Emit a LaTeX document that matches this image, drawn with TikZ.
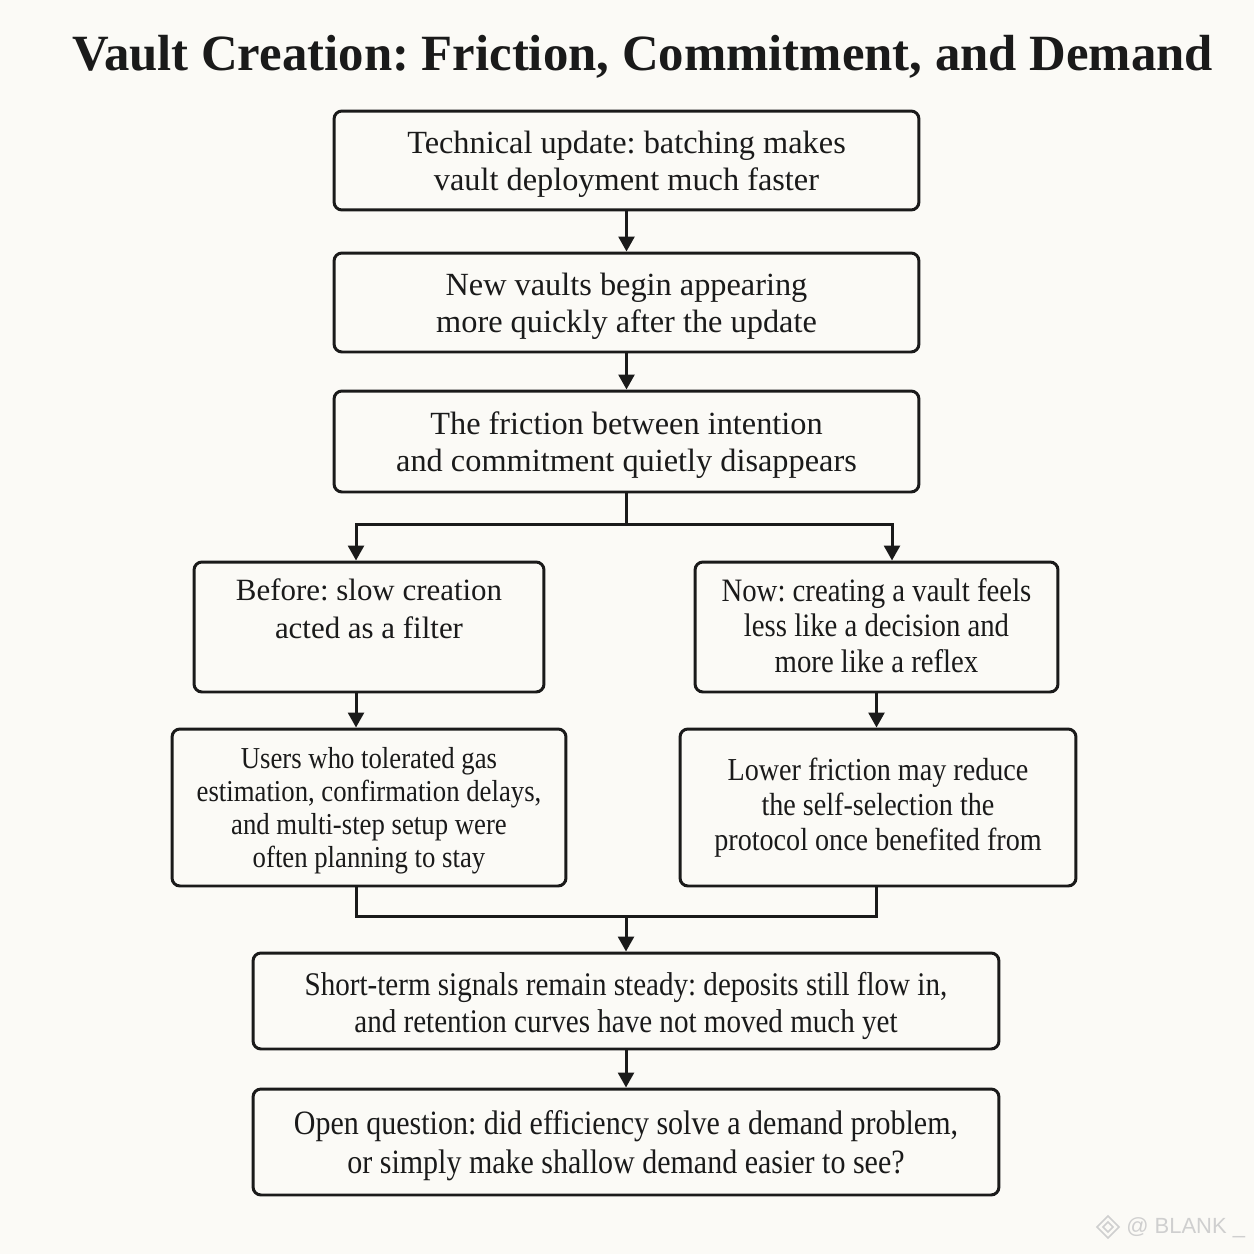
\documentclass[tikz,border=0pt]{standalone}
\usepackage{fontspec}
\setmainfont{Liberation Serif}
\newfontfamily\condfont[FakeStretch=0.88]{Liberation Serif}
\newfontfamily\wmfont{Liberation Sans}
\usetikzlibrary{arrows.meta,calc}
\definecolor{bg}{HTML}{FBFAF6}
\definecolor{ink}{HTML}{1A1A1A}
\definecolor{wm}{HTML}{CFCFCF}
\tikzset{
  box/.style={draw=ink, line width=1.7pt, rounded corners=4.5pt, inner sep=0pt, align=center, text=ink},
  arr/.style={draw=ink, line width=1.7pt, -{Triangle[length=8.5pt,width=9pt]}},
  ln/.style={draw=ink, line width=1.7pt},
}
\newcommand\ctext[2][2.3pt]{\raisebox{-#1}[\height][\depth]{\begin{tabular}{@{}c@{}}#2\end{tabular}}}
\frenchspacing
\begin{document}
\begin{tikzpicture}[x=0.02cm,y=-0.02cm]
\useasboundingbox[fill=bg] (0,0) rectangle (1254,1254);
\node[font=\bfseries\fontsize{28.9}{32}\selectfont, text=ink, anchor=base, inner sep=0pt] (title) at (642.5,70) {Vault Creation: Friction, Commitment, and Demand};

\node[box, minimum width=11.70cm, minimum height=1.98cm, font=\fontsize{18.4}{21.5}\selectfont] (A) at (626.5,160.5) {\ctext{Technical update: batching makes\\vault deployment much faster}};
\node[box, minimum width=11.70cm, minimum height=1.98cm, font=\fontsize{18.4}{21.5}\selectfont] (B) at (626.5,302.5) {\ctext{New vaults begin appearing\\more quickly after the update}};
\node[box, minimum width=11.70cm, minimum height=2.02cm, font=\fontsize{18.4}{21.5}\selectfont] (C) at (626.5,441.5) {\ctext{The friction between intention\\and commitment quietly disappears}};

\node[box, minimum width=7.00cm, minimum height=2.60cm, font=\fontsize{17.6}{21.3}\selectfont] (D) at (369,627) {\ctext[2pt]{Before: slow creation\\acted as a filter\\\mbox{}}};
\node[box, minimum width=7.26cm, minimum height=2.60cm, font=\condfont\fontsize{18.6}{20.2}\selectfont] (E) at (876.5,627) {\ctext[1.4pt]{Now: creating a vault feels\\less like a decision and\\more like a reflex}};

\node[box, minimum width=7.88cm, minimum height=3.14cm, font=\condfont\fontsize{17.3}{18.8}\selectfont] (F) at (369,807.5) {\ctext{Users who tolerated gas\\estimation, confirmation delays,\\and multi-step setup were\\often planning to stay}};
\node[box, minimum width=7.92cm, minimum height=3.14cm, font=\condfont\fontsize{18.2}{19.8}\selectfont] (G) at (878,807.5) {\ctext[0.6pt]{Lower friction may reduce\\the self-selection the\\protocol once benefited from}};

\node[box, minimum width=14.92cm, minimum height=1.92cm, font=\condfont\fontsize{18.8}{21}\selectfont] (H) at (626,1001) {\ctext[3.2pt]{Short-term signals remain steady: deposits still flow in,\\and retention curves have not moved much yet}};
\node[box, minimum width=14.92cm, minimum height=2.12cm, font=\condfont\fontsize{19.4}{22.7}\selectfont] (I) at (626,1142) {\ctext{Open question: did efficiency solve a demand problem,\\or simply make shallow demand easier to see?}};

\coordinate (split) at (626.5,524);
\coordinate (merge) at (626,916);

\draw[arr] (A) -- (B);
\draw[arr] (B) -- (C);
\draw[ln] (C.south) -- (split);
\draw[arr] (split) -| ([xshift=-0.26cm]D.north);
\draw[arr] (split) -| ([xshift=0.31cm]E.north);
\draw[arr] ([xshift=-0.26cm]D.south) -- ([xshift=-0.26cm]F.north);
\draw[arr] (E.south) -- (E.south |- G.north);
\draw[ln] ([xshift=-0.26cm]F.south) |- (merge);
\draw[ln] ([xshift=-0.04cm]G.south) |- (merge);
\draw[arr] (merge) -- (H.north -| merge);
\draw[arr] (H) -- (I);

\node[text=wm, font=\wmfont\fontsize{12.5}{14}\selectfont, anchor=west, inner sep=0pt] (wmark) at (1126,1228) {@ BLANK \_};
\draw[wm, line width=0.9pt] (1108,1216) -- (1119,1227) -- (1108,1238) -- (1097,1227) -- cycle
  (1108,1222) -- (1113,1227) -- (1108,1232) -- (1103,1227) -- cycle;
\end{tikzpicture}
\end{document}
